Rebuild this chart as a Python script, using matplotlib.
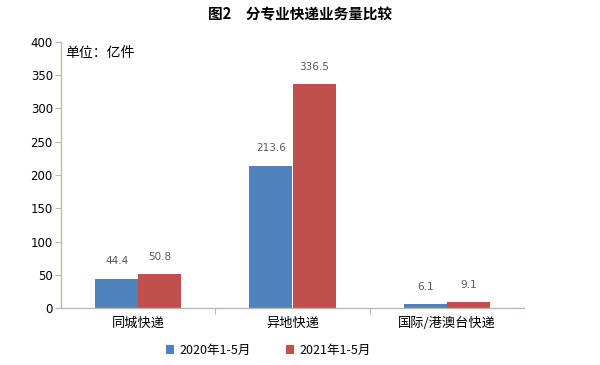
import matplotlib
matplotlib.use("Agg")
import matplotlib.pyplot as plt
import numpy as np

plt.rcParams['font.family'] = ['Noto Sans CJK SC', 'DejaVu Sans']

categories = ['同城快递', '异地快递', '国际/港澳台快递']
series_names = ['2020年1-5月', '2021年1-5月']
values_2020 = [44.4, 213.6, 6.1]
values_2021 = [50.8, 336.5, 9.1]
colors = ['#4F81BD', '#C0504D']

fig = plt.figure(figsize=(6, 3.65), dpi=100)
ax = fig.add_axes([0.102, 0.156, 0.771, 0.729])

x = np.arange(len(categories))
w = 0.28
b1 = ax.bar(x - w/2, values_2020, w, color=colors[0], label=series_names[0], linewidth=0)
b2 = ax.bar(x + w/2, values_2021, w, color=colors[1], label=series_names[1], linewidth=0)

for bars, vals in ((b1, values_2020), (b2, values_2021)):
    for rect, v in zip(bars, vals):
        ax.annotate(f'{v:.1f}', (rect.get_x() + rect.get_width()/2, v),
                    xytext=(0, 9), textcoords='offset points',
                    ha='center', va='bottom', fontsize=7.5, color='#595959',
                    family=['DejaVu Sans'])

ax.set_xlim(-0.5, 2.5)
ax.set_ylim(0, 400)
ax.set_yticks(range(0, 401, 50))
ax.tick_params(axis='y', labelsize=8.5, length=4, color='#BFB8A8', pad=2)
ax.set_xticks([0.5, 1.5], minor=False)
ax.set_xticklabels([])
ax.set_xticks(x, minor=True)
ax.set_xticklabels(categories, minor=True, fontsize=9.5)
ax.tick_params(axis='x', which='major', length=4, color='#BFB8A8')
ax.tick_params(axis='x', which='minor', length=0, pad=6)
for lbl in ax.get_yticklabels():
    lbl.set_family(['DejaVu Sans'])

for s in ['top', 'right']:
    ax.spines[s].set_visible(False)
for s in ['left', 'bottom']:
    ax.spines[s].set_color('#BFB8A8')
    ax.spines[s].set_linewidth(1.0)

ax.text(0.008, 0.985, '单位：亿件', transform=ax.transAxes, fontsize=10,
        va='top', ha='left')

fig.text(0.5, 0.96, '图2　分专业快递业务量比较', ha='center', va='center',
         fontsize=10.5, fontweight='bold')

fig.legend(handles=[b1, b2], loc='center', bbox_to_anchor=(0.447, 0.04),
           ncol=2, frameon=False, fontsize=9, handlelength=0.7,
           handleheight=0.7, columnspacing=2.8, handletextpad=0.4)

fig.savefig('out.png', dpi=100)
